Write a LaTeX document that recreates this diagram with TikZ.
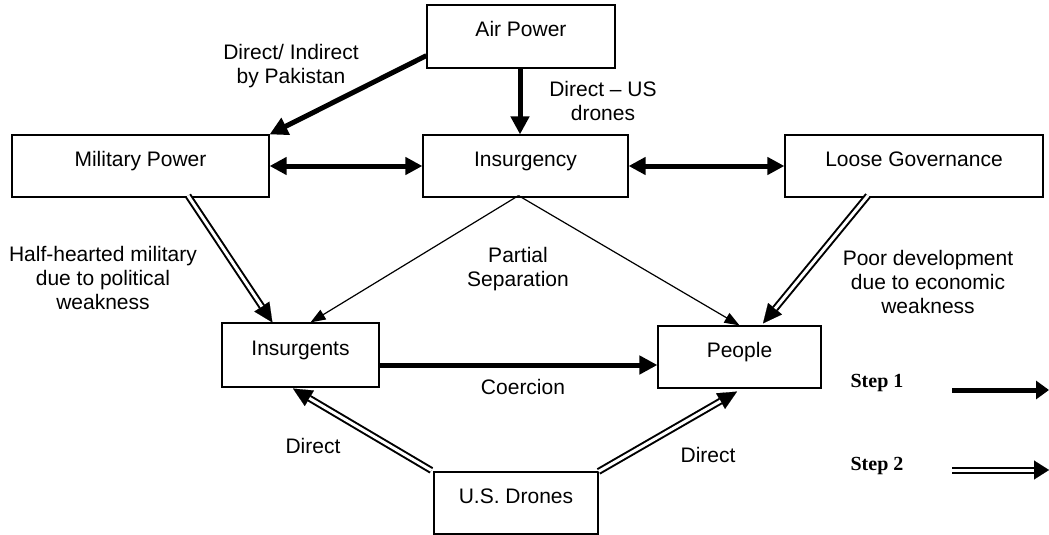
\documentclass[tikz,border=0pt]{standalone}
\usepackage{fontspec}
\setmainfont{Liberation Sans}
\newfontfamily\stepfont{Liberation Serif}
\usetikzlibrary{arrows.meta,calc}
\begin{document}
\begin{tikzpicture}[x=1pt,y=-1pt,
  box/.style={draw, line width=1.2pt, inner xsep=0pt, inner ysep=0pt,
    text height=31pt, text depth=31pt, font=\fontsize{21}{24}\selectfont},
  lbl/.style={align=center, inner sep=0pt, font=\fontsize{21}{24}\selectfont},
  stepl/.style={inner sep=0pt, font=\stepfont\bfseries\fontsize{20}{24}\selectfont},
  fatarr/.style={line width=5pt, -{Triangle[length=18pt,width=18pt]}},
  fatboth/.style={line width=5pt, {Triangle[length=17pt,width=17pt]}-{Triangle[length=17pt,width=17pt]}},
  thinarr/.style={line width=1.2pt, -{Triangle[length=15pt,width=11pt]}},
  dbltip/.style={white, line width=0.1pt, -{Triangle[length=19pt,width=18pt,black]}},
  dblline/.style={double=white, draw=black, double distance=3pt, line width=2pt, shorten >=19pt}
]
\useasboundingbox (0,0) rectangle (1049,535);

% boxes
\node[box, minimum width=188pt, minimum height=63pt] (air) at (521,36.5) {Air Power};
\node[box, minimum width=257pt, minimum height=62pt] (mil) at (140.5,166) {Military Power};
\node[box, minimum width=205pt, minimum height=62pt] (ins) at (525.5,166) {Insurgency};
\node[box, minimum width=258pt, minimum height=62pt] (gov) at (914,166) {Loose Governance};
\node[box, minimum width=157pt, minimum height=64pt] (gents) at (300.5,355) {Insurgents};
\node[box, minimum width=163pt, minimum height=62pt] (people) at (739.5,357) {People};
\node[box, minimum width=164pt, minimum height=62pt] (drones) at (516,503) {U.S. Drones};

% step 1 arrows
\draw[fatarr] ($(air.south west)+(0,-13)$) -- (mil.north east);
\draw[fatarr] ($(air.south)+(-1,0)$) -- ($(ins.north)+(-5.5,0)$);
\draw[fatboth] (mil.east) -- (ins.west);
\draw[fatboth] (ins.east) -- (gov.west);
\draw[fatarr] ($(gents.east)+(0,10)$) -- ($(people.west)+(0,8)$);

% thin arrows
\draw[thinarr] ($(ins.south)+(-7,-2)$) -- ($(gents.north)+(10,0)$);
\draw[thinarr] ($(ins.south)+(-7,-2)$) -- (people.north);

% step 2 (double) arrows
\coordinate (m1) at ($(mil.south)+(47.5,-2)$);
\coordinate (m2) at ($(gents.north west)+(51,0)$);
\draw[dbltip] (m1) -- (m2);
\draw[dblline] (m1) -- (m2);

\coordinate (g1) at ($(gov.south)+(-46,-2)$);
\coordinate (g2) at ($(people.north)+(23.5,-2)$);
\draw[dbltip] (g1) -- (g2);
\draw[dblline] (g1) -- (g2);

\coordinate (d1) at ($(drones.north west)+(-2,-1)$);
\coordinate (d2) at ($(gents.south)+(-7.5,1)$);
\draw[dbltip] (d1) -- (d2);
\draw[dblline] (d1) -- (d2);

\coordinate (e1) at ($(drones.north east)+(0,0)$);
\coordinate (e2) at ($(people.south)+(-2.5,3)$);
\draw[dbltip] (e1) -- (e2);
\draw[dblline] (e1) -- (e2);

% labels
\node[lbl] (lpak) at (291,66) {Direct/ Indirect\\by Pakistan};
\node[lbl] (lus) at (603,101) {Direct \textendash{} US\\drones};
\node[lbl] (lhalf) at (103,278) {Half-hearted military\\due to political\\weakness};
\node[lbl] (lsep) at (518,269) {Partial\\Separation};
\node[lbl] (lpoor) at (928,282) {Poor development\\due to economic\\weakness};
\node[lbl] (lcoer) at (523,387) {Coercion};
\node[lbl] (ldir1) at (313,446) {Direct};
\node[lbl] (ldir2) at (708,455) {Direct};

% legend
\node[stepl] (s1) at (877,383) {Step 1};
\node[stepl] (s2) at (877,466) {Step 2};
\coordinate (l1a) at (952,390);
\coordinate (l1b) at (1049,390);
\draw[line width=5pt, -{Triangle[length=13pt,width=18pt]}] (l1a) -- (l1b);
\coordinate (l2a) at (952,470);
\coordinate (l2b) at (1049,470);
\draw[white, line width=0.1pt, -{Triangle[length=15pt,width=19pt,black]}] (l2a) -- (l2b);
\draw[dblline, shorten >=15pt] (l2a) -- (l2b);
\end{tikzpicture}
\end{document}
